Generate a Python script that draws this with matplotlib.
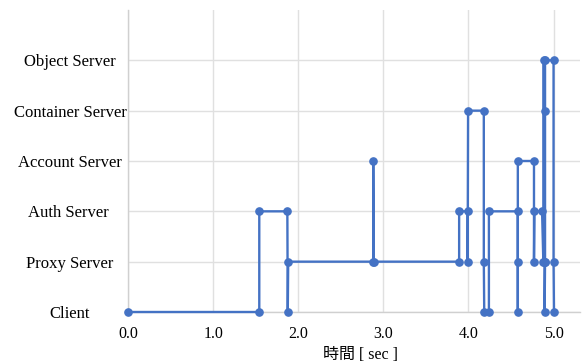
import matplotlib
matplotlib.use("Agg")
import matplotlib.pyplot as plt

categories = ["Client", "Proxy Server", "Auth Server ", "Account Server",
              "Container Server", "Object Server"]

times = [0.00, 1.54, 1.54, 1.87, 1.875, 1.88, 2.88, 2.88, 2.885, 3.89, 3.89,
         3.99, 3.99, 3.995, 4.18, 4.18, 4.185, 4.24, 4.24, 4.58, 4.58, 4.58,
         4.58, 4.77, 4.77, 4.775, 4.865, 4.88, 4.885, 4.89, 4.895, 4.895,
         4.895, 4.90, 4.90, 5.00, 5.00, 5.005]
servers = ["Client", "Client", "Auth Server ", "Auth Server ", "Client",
           "Proxy Server", "Proxy Server", "Account Server", "Proxy Server",
           "Proxy Server", "Auth Server ", "Auth Server ", "Proxy Server",
           "Container Server", "Container Server", "Proxy Server", "Client",
           "Client", "Auth Server ", "Auth Server ", "Client", "Proxy Server",
           "Account Server", "Account Server", "Proxy Server", "Auth Server ",
           "Auth Server ", "Proxy Server", "Object Server", "Proxy Server",
           "Container Server", "Proxy Server", "Client", "Proxy Server",
           "Object Server", "Object Server", "Proxy Server", "Client"]

xticks = [0.0, 1.0, 2.0, 3.0, 4.0, 5.0]
xtick_labels = ["0.0", "1.0", "2.0", "3.0", "4.0", "5.0"]
xlabel = "時間 [ sec ]"

fam = ["Liberation Serif", "Noto Sans CJK JP", "DejaVu Sans"]
plt.rcParams['font.family'] = fam

fig = plt.figure(figsize=(5.84, 3.63), dpi=100)
ax = fig.add_axes([0.2197, 0.1405, 0.7733, 0.832])

ypos = [categories.index(s) for s in servers]
ax.plot(times, ypos, color="#4472C4", linewidth=1.7, marker="o",
        markersize=5.2, zorder=3, clip_on=False)

ax.set_xlim(0, 5.31)
ax.set_ylim(0, 6)
ax.set_xticks(xticks)
ax.set_xticklabels(xtick_labels, fontsize=11.5)
ax.set_yticks(range(len(categories)))
ax.set_yticklabels(categories, fontsize=12, ha="center")
ax.tick_params(axis="y", length=0, pad=42)
ax.tick_params(axis="x", length=0, pad=10)

ax.grid(True, color="#e0e0e0", linewidth=1.0, zorder=0)
ax.set_axisbelow(True)
for s in ["top", "right"]:
    ax.spines[s].set_visible(False)
for s in ["left", "bottom"]:
    ax.spines[s].set_color("#d0d0d0")
    ax.spines[s].set_linewidth(1.0)

ax.set_xlabel(xlabel, fontsize=11.5)
ax.xaxis.set_label_coords(0.515, -0.115)

fig.savefig("out.png", dpi=100)
